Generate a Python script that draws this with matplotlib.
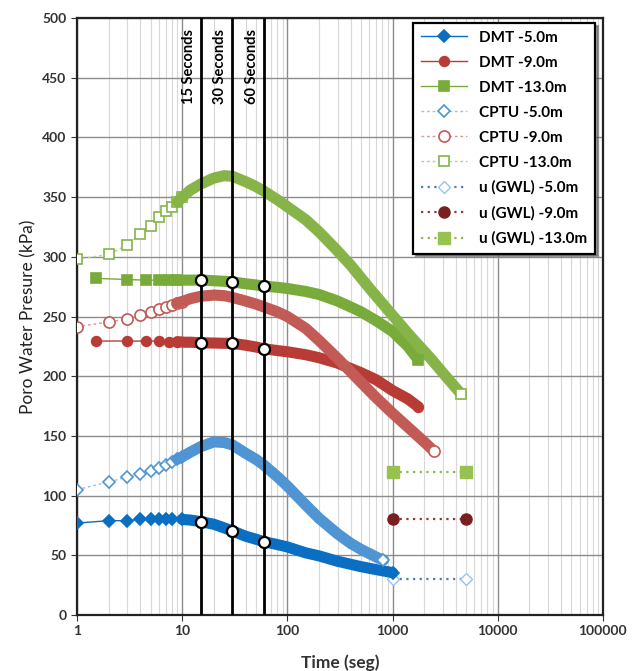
import matplotlib.pyplot as plt
import numpy as np
from matplotlib.ticker import LogLocator, NullFormatter

plt.rcParams['font.family'] = ['Lato', 'DejaVu Sans']

# data
dmt5_t = [1, 2, 3, 4, 5, 6, 7, 8, 10, 12, 15, 20, 25, 30, 40, 50, 60, 80, 100, 150, 200, 300, 500, 700, 1000]
dmt5_u = [77, 79, 79, 80, 80.5, 80.5, 80.5, 80.5, 80, 79.5, 78.2, 76, 73, 70.4, 66, 63.5, 61.4, 59, 57, 52, 49.5, 45, 40.5, 38, 35.5]

dmt9_t = [1.5, 3, 4.5, 6, 7.5, 9, 10.5, 12, 15, 20, 25, 30, 40, 50, 60, 80, 100, 150, 200, 300, 500, 700, 1000, 1400, 1750]
dmt9_u = [229.5, 229.5, 229.5, 229.5, 229, 229, 228.5, 228.5, 228, 227.8, 227.6, 227.5, 226, 224.5, 223, 221.5, 220.5, 218, 215.5, 211, 203, 197, 188, 181, 174.5]

dmt13_t = [1.5, 3, 4.5, 6, 7.5, 9, 10.5, 12, 15, 20, 25, 30, 40, 50, 60, 80, 100, 150, 200, 300, 400, 500, 700, 1000, 1400, 1750]
dmt13_u = [282, 281, 280.5, 280.5, 280.5, 280.5, 280.5, 280.5, 280.6, 280, 279.5, 279, 277.5, 276.5, 275.5, 274.5, 273.5, 271, 268.5, 263, 258, 254, 246.5, 237.5, 225, 214]

cptu5_t = [1, 2, 3, 4, 5, 6, 7, 8, 9, 10, 12, 15, 20, 25, 30, 40, 50, 60, 80, 100, 150, 200, 300, 400, 500, 600, 700, 820]
cptu5_u = [105, 111.5, 115.5, 118, 120.5, 123, 125.5, 128, 130.5, 132.5, 136.5, 141, 145, 144.5, 142.5, 135.5, 130.5, 125.5, 116, 108, 92, 81, 68, 60, 55, 51.5, 48.5, 46]

cptu9_t = [1, 2, 3, 4, 5, 6, 7, 8, 9, 10, 12, 15, 20, 25, 30, 40, 50, 60, 80, 100, 150, 200, 300, 500, 700, 1000, 1500, 2000, 2500]
cptu9_u = [241.5, 245.5, 248, 251, 253.5, 256, 258, 260, 261.5, 262.5, 265, 267, 268, 267.5, 266, 263, 260.5, 258, 254, 250, 240, 230, 215, 195, 182, 169, 155, 145, 137]

cptu13_t = [1, 2, 3, 4, 5, 6, 7, 8, 9, 10, 12, 15, 20, 25, 30, 40, 50, 60, 80, 100, 150, 200, 300, 400, 600, 1000, 1500, 2300, 3000, 4500]
cptu13_u = [298, 302, 310, 319.5, 326, 333.5, 338, 342, 346, 350, 356, 361, 366, 368, 367.5, 363, 359, 355, 348, 342, 331, 321, 305, 293, 274, 251, 233, 215, 203, 185]

gwl_t = [1000, 5000]
gwl5_u = [30, 30]
gwl9_u = [80, 80]
gwl13_u = [120, 120]

check_t = [15, 30, 60]
x_ticks = [1, 10, 100, 1000, 10000, 100000]
x_labels = ["1", "10", "100", "1000", "10000", "100000"]
y_ticks = [0, 50, 100, 150, 200, 250, 300, 350, 400, 450, 500]

fig, ax = plt.subplots(figsize=(6.42, 6.71), dpi=100)
fig.subplots_adjust(left=0.12, right=0.939, bottom=0.0835, top=0.973)


def serie(t, u, color, band, marker, ms, label, face, ls):
    t = np.array(t)
    u = np.array(u)
    sparse = [i for i in range(len(t)) if t[i] <= 10]
    ax.plot(t, u, ls=ls, lw=1, color=color, marker=marker, ms=ms, mfc=face,
            mec=band, mew=1.2, markevery=sparse, label=label, zorder=3)
    m = t >= 9
    ax.plot(t[m], u[m], color=band, lw=8, solid_capstyle='round', solid_joinstyle='round', zorder=4)
    ax.plot(t[-1:], u[-1:], ls='none', marker=marker, ms=ms, mfc=face, mec=band, mew=1.2, zorder=4.5)


serie(dmt5_t, dmt5_u, '#0a6fc2', '#0a6fc2', 'D', 6.5, 'DMT -5.0m', '#0a6fc2', '-')
serie(dmt9_t, dmt9_u, '#b83c35', '#b83c35', 'o', 7, 'DMT -9.0m', '#b83c35', '-')
serie(dmt13_t, dmt13_u, '#79ab3b', '#79ab3b', 's', 7, 'DMT -13.0m', '#79ab3b', '-')
serie(cptu5_t, cptu5_u, '#9cc3e6', '#4f95d4', 'D', 6.5, 'CPTU -5.0m', 'white', (0, (2, 2)))
serie(cptu9_t, cptu9_u, '#d49a98', '#c25a55', 'o', 8, 'CPTU -9.0m', 'white', (0, (2, 2)))
serie(cptu13_t, cptu13_u, '#b5cf8a', '#86b449', 's', 7, 'CPTU -13.0m', 'white', (0, (2, 2)))

ax.plot(gwl_t, gwl5_u, ls=(0, (1, 2)), lw=1.6, color='#4a7cc4', marker='D', ms=6,
        mfc='white', mec='#9cc3e6', label='u (GWL) -5.0m', zorder=3)
ax.plot(gwl_t, gwl9_u, ls=(0, (1, 2)), lw=1.6, color='#8e3838', marker='o', ms=8,
        mfc='#7a1f1f', mec='#7a1f1f', label='u (GWL) -9.0m', zorder=3)
ax.plot(gwl_t, gwl13_u, ls=(0, (1, 2)), lw=1.6, color='#8db84a', marker='s', ms=8,
        mfc='#97c24f', mec='#97c24f', label='u (GWL) -13.0m', zorder=3)

# 15 / 30 / 60 second lines
for s in check_t:
    ax.axvline(s, color='black', lw=2, zorder=5)
    ax.text(s / 1.3, 491, f"{s} Seconds", rotation=90, ha='center', va='top',
            fontsize=10.5, fontweight='bold', zorder=6)

for t, u in [(dmt5_t, dmt5_u), (dmt9_t, dmt9_u), (dmt13_t, dmt13_u)]:
    vals = [u[t.index(s)] for s in check_t]
    ax.plot(check_t, vals, ls='none', marker='o', ms=8, mfc='white', mec='black', mew=1.6, zorder=7)

ax.set_xscale('log')
ax.set_xlim(1, 100000)
ax.set_ylim(0, 500)
ax.set_xticks(x_ticks, x_labels)
ax.set_yticks(y_ticks)
ax.xaxis.set_minor_locator(LogLocator(base=10, subs=range(2, 10)))
ax.xaxis.set_minor_formatter(NullFormatter())
ax.grid(which='major', color='#8c8c8c', lw=1)
ax.grid(which='minor', axis='x', color='#d8d8d8', lw=0.8)
ax.set_axisbelow(True)
ax.tick_params(which='minor', length=0)
ax.tick_params(which='major', length=4, labelsize=10, colors='#333333')
for lab in ax.get_xticklabels() + ax.get_yticklabels():
    lab.set_fontweight('bold')
for sp in ax.spines.values():
    sp.set_linewidth(1.6)
    sp.set_color('#222222')

ax.set_xlabel('Time (seg)', fontsize=12.5, fontweight='bold', color='#333333', labelpad=12)
ax.set_ylabel('Poro Water Presure (kPa)', fontsize=12.5, color='#222222', labelpad=4)

leg = ax.legend(loc='upper right', bbox_to_anchor=(0.985, 0.992), borderaxespad=0,
                prop={'weight': 'bold', 'size': 11}, numpoints=1,
                handlelength=3, labelspacing=0.72, borderpad=0.5, fancybox=False, shadow=True,
                edgecolor='black', framealpha=1)
leg.get_frame().set_linewidth(1.6)

plt.savefig('out.png', dpi=100)
